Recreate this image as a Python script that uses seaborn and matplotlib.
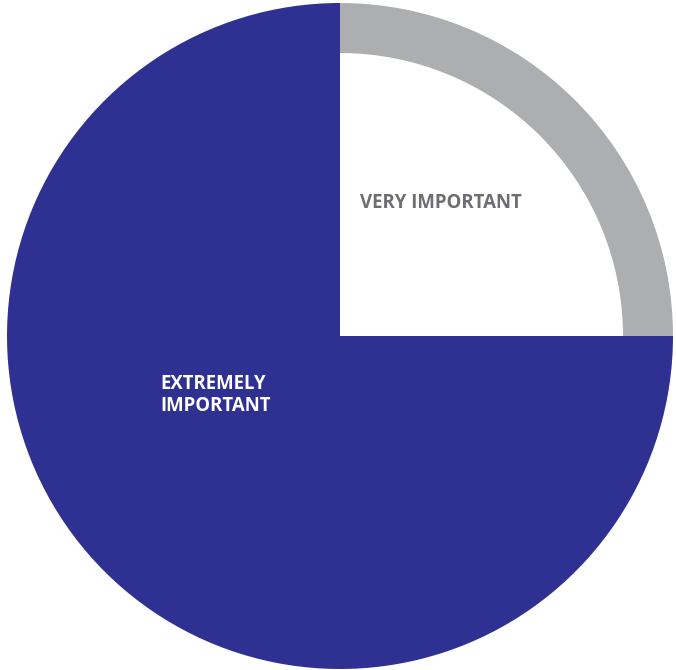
import matplotlib
matplotlib.use("Agg")
import matplotlib.pyplot as plt
import seaborn as sns

categories = ["EXTREMELY\nIMPORTANT", "VERY IMPORTANT"]
values = [75, 25]
colors = ["#2E3192", "#ADAEB0"]

sns.set_theme(style="white")
plt.rcParams['font.family'] = ['Open Sans', 'DejaVu Sans']

fig = plt.figure(figsize=(6.76, 6.70), dpi=100)
ax = fig.add_axes([0, 0, 1, 1])

wedges, _ = ax.pie(values, colors=colors, startangle=90, counterclock=True,
                   center=(340, 334), radius=333, frame=True,
                   wedgeprops=dict(linewidth=0))
wedges[1].set_width(50)
ax.set_xlim(0, 676)
ax.set_ylim(0, 670)
ax.set_aspect('equal')
ax.axis('off')

ax.text(160, 275, categories[0], color="white", fontsize=13.4, fontweight="bold",
        ha="left", va="center", linespacing=1.1)
ax.text(360, 467, categories[1], color="#6D6E71", fontsize=13.4, fontweight="bold",
        ha="left", va="center")

fig.savefig("out.png", dpi=100)
